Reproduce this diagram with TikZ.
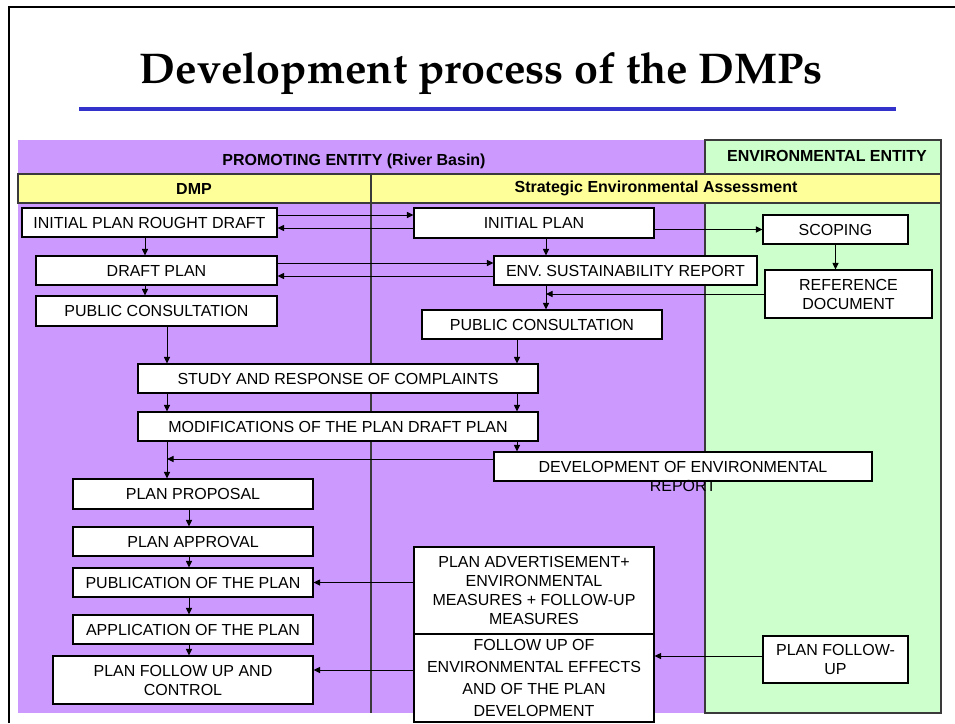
\documentclass[tikz,border=0pt]{standalone}
\usepackage{fontspec}
\setmainfont{Liberation Sans}
\usetikzlibrary{arrows.meta,calc}
\definecolor{purp}{HTML}{CC99FF}
\definecolor{grn}{HTML}{CCFFCC}
\definecolor{yel}{HTML}{FFFF99}
\definecolor{rulecol}{HTML}{3333CC}
\definecolor{edgecol}{HTML}{3A3A3A}
\tikzset{
  box/.style={draw=black, line width=1.1pt, fill=white, inner sep=0pt, align=center,
    font=\fontsize{16}{19}\selectfont},
  arr/.style={line width=1pt, -{Triangle[length=6.5pt,width=6pt]}},
  lane/.style={draw=edgecol, line width=1.1pt},
  hdr/.style={font=\fontsize{16}{19}\selectfont\bfseries, inner sep=0pt},
  titlefont/.style={font=\fontencoding{T1}\fontfamily{ppl}\fontseries{b}\fontsize{43}{50}\selectfont},
}
\newcommand\mkbox[6]{\node[box, minimum width={(#4)-(#2)}, minimum height={(#5)-(#3)}] (#1) at ({((#2)+(#4))/2},{((#3)+(#5))/2}) {#6};}
\begin{document}
\begin{tikzpicture}[x=1pt,y=-1pt]
\useasboundingbox (0,0) rectangle (955,723);
% frame
\draw[line width=2.5pt] (9,723) -- (9,7) -- (955,7);
% title
\node[titlefont, anchor=base, inner sep=0pt] (title) at (481.5,83) {Development process of the DMPs};
\draw[rulecol, line width=4pt] (79,108.5) -- (896,108.5);
% lanes
\fill[purp] (18,140) rectangle (705,713);
\filldraw[fill=grn, lane] (705,140) rectangle (941,713);
\filldraw[fill=yel, lane] (18,174) rectangle (941,203);
\draw[lane] (371,174) -- (371,713);
\node[hdr] (promo) at (354,161.5) {PROMOTING ENTITY (River Basin)};
\node[hdr] (envent) at (827,155.5) {ENVIRONMENTAL ENTITY};
\node[hdr] (dmp) at (194,188.5) {DMP};
\node[hdr] (sea) at (656,188.5) {Strategic Environmental Assessment};
% boxes
\mkbox{iprd}{22}{208}{277}{237}{INITIAL PLAN ROUGHT DRAFT}
\mkbox{dp}{36}{256}{277}{285}{DRAFT PLAN}
\mkbox{pcl}{36}{296}{277}{326}{PUBLIC CONSULTATION}
\mkbox{ip}{414}{208}{654}{238}{INITIAL PLAN}
\mkbox{esr}{494}{256}{757}{285}{ENV. SUSTAINABILITY REPORT}
\mkbox{scop}{763}{215}{908}{244}{SCOPING}
\mkbox{ref}{765}{270}{932}{318}{REFERENCE\\DOCUMENT}
\mkbox{pcr}{422}{310}{662}{339}{PUBLIC CONSULTATION}
\mkbox{study}{138}{364}{538}{393}{STUDY AND RESPONSE OF COMPLAINTS}
\mkbox{mod}{138}{412}{538}{441}{MODIFICATIONS OF THE PLAN DRAFT PLAN}
\node[box, minimum width=378, minimum height=29, text height=11.5pt, text depth=0pt] (dev) at (683,466.5)
  {\begin{tabular}[t]{@{}c@{}}DEVELOPMENT OF ENVIRONMENTAL\\REPORT\end{tabular}};
\mkbox{pp}{73}{479}{313}{509}{PLAN PROPOSAL}
\mkbox{pa}{73}{527}{313}{556}{PLAN APPROVAL}
\mkbox{pub}{73}{568}{313}{597}{PUBLICATION OF THE PLAN}
\mkbox{app}{73}{615}{313}{644}{APPLICATION OF THE PLAN}
\mkbox{pfuc}{53}{656}{313}{704}{PLAN FOLLOW UP AND\\CONTROL}
\mkbox{padv}{414}{547}{654}{634}{PLAN ADVERTISEMENT+\\ENVIRONMENTAL\\MEASURES + FOLLOW-UP\\MEASURES}
\mkbox{fuo}{414}{634}{654}{722}{FOLLOW UP OF\\[3pt]ENVIRONMENTAL EFFECTS\\[3pt]AND OF THE PLAN\\[3pt]DEVELOPMENT}
\mkbox{pfu}{763}{636}{908}{683}{PLAN FOLLOW-\\UP}
% helper coordinates
\coordinate (c145) at ([xshift=-4.5pt]iprd.south);
\coordinate (c546) at ([xshift=12pt]ip.south);
\coordinate (c517) at ([xshift=-25pt]pcr.south);
\coordinate (c167) at ([xshift=10.5pt]pcl.south);
\coordinate (c189) at ([xshift=-4pt]pp.south);
\coordinate (s1) at ([yshift=7.5pt]iprd.east);
\coordinate (s2) at ([yshift=-5pt]ip.west);
\coordinate (s3) at ([yshift=7.5pt]dp.east);
\coordinate (s4) at ([yshift=-5.5pt]esr.west);
\coordinate (s5) at ([yshift=7.5pt]dev.west);
\coordinate (s6) at ([yshift=8pt]fuo.west);
\coordinate (s7) at ([yshift=3.5pt]pfu.west);
% connectors
\draw[arr] (s1) -- (s1 -| ip.west);
\draw[arr] (s2) -- (s2 -| iprd.east);
\draw[arr] (s3) -- (s3 -| esr.west);
\draw[arr] (s4) -- (s4 -| dp.east);
\draw[arr] (ip.east |- scop.west) -- (scop.west);
\draw[arr] (c145) -- (c145 |- dp.north);
\draw[arr] (c145 |- dp.south) -- (c145 |- pcl.north);
\draw[arr] (c546) -- (c546 |- esr.north);
\draw[arr] (scop.south) -- (scop.south |- ref.north);
\draw[arr] (c546 |- esr.south) -- (c546 |- pcr.north);
\draw[arr] (ref.west) -- (ref.west -| c546);
\draw[arr] (c517) -- (c517 |- study.north);
\draw[arr] (c517 |- study.south) -- (c517 |- mod.north);
\draw[arr] (c517 |- mod.south) -- (c517 |- dev.north);
\draw[arr] (c167) -- (c167 |- study.north);
\draw[arr] (c167 |- study.south) -- (c167 |- mod.north);
\draw[arr] (c167 |- mod.south) -- (c167 |- pp.north);
\draw[arr] (s5) -- (s5 -| c167);
\draw[arr] (c189) -- (c189 |- pa.north);
\draw[arr] (c189 |- pa.south) -- (c189 |- pub.north);
\draw[arr] (c189 |- pub.south) -- (c189 |- app.north);
\draw[arr] (c189 |- app.south) -- (c189 |- pfuc.north);
\draw[arr] (pub.east -| padv.west) -- (pub.east);
\draw[arr] (s6) -- (s6 -| pfuc.east);
\draw[arr] (s7) -- (s7 -| fuo.east);
\end{tikzpicture}
\end{document}
